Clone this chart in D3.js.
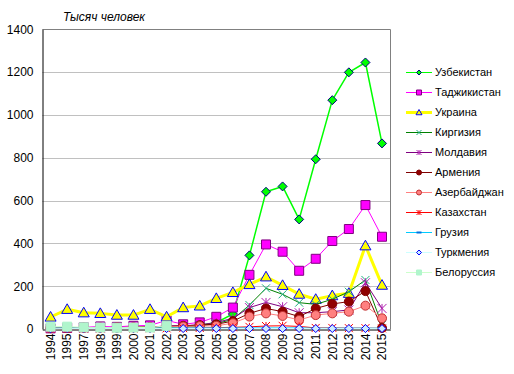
<!DOCTYPE html>
<html>
<head>
<meta charset="utf-8">
<script src="https://cdn.jsdelivr.net/npm/d3@7"></script>
<style>
  body { margin: 0; background: #fff; }
  text { font-family: Arial, "Liberation Sans", sans-serif; }
</style>
</head>
<body>
<div id="chart"></div>
<script>
// Migrants from former USSR republics, thousands of people //
const width = 514;
const height = 374;

const years = ["1994", "1995", "1997", "1998", "1999", "2000", "2001", "2002", "2003", "2004", "2005",
  "2006", "2007", "2008", "2009", "2010", "2011", "2012", "2013", "2014", "2015"];
const yTicks = [0, 200, 400, 600, 800, 1000, 1200, 1400];

const uzbekistan = [3, 4, 5, 6, 6, 7, 8, 10, 12, 16, 30, 70, 344, 641, 666, 512, 793, 1069, 1199, 1245, 867];
const tajikistan = [3, 5, 8, 12, 10, 15, 17, 40, 22, 31, 57, 100, 253, 395, 361, 272, 328, 411, 467, 579, 431];
const ukraine = [56, 92, 76, 73, 65, 65, 92, 57, 100, 108, 143, 171, 208, 244, 204, 163, 139, 156, 167, 389, 205];
const kyrgyzstan = [2, 3, 4, 5, 5, 6, 7, 10, 12, 15, 25, 45, 112, 190, 162, 123, 115, 139, 174, 229, 19];
const moldova = [2, 3, 4, 5, 6, 7, 8, 15, 15, 20, 30, 50, 100, 124, 104, 76, 76, 81, 89, 216, 96];
const armenia = [5, 5, 6, 7, 7, 8, 9, 12, 15, 18, 22, 37, 73, 96, 81, 58, 96, 117, 128, 177, 5];
const azerbaijan = [4, 5, 6, 6, 7, 7, 8, 10, 12, 14, 15, 27, 58, 73, 61, 42, 65, 73, 81, 109, 50];
const kazakhstan = [2, 2, 2, 2, 2, 2, 3, 3, 4, 5, 6, 8, 10, 14, 15, 12, 5, 5, 4, 4, 3];
const georgia = [4, 5, 5, 5, 5, 5, 5, 5, 5, 5, 5, 5, 5, 5, 5, 5, 4, 4, 4, 4, 4];
const turkmenistan = [1, 2, 2, 2, 2, 2, 2, 2, 2, 2, 2, 2, 2, 2, 2, 2, 2, 2, 2, 2, 2];
const belarus = [11, 11, 8, 7, 6, 7, 7, 15, null, null, null, null, null, null, null, null, null, null, null, null, null];

const series = [
  { name: "Узбекистан", values: uzbekistan, line: "#00FF00", lw: 1.5, marker: "diamond", fill: "#00FF00", stroke: "#000080", size: 9 },
  { name: "Таджикистан", values: tajikistan, line: "#FF00FF", lw: 1, marker: "square", fill: "#FF00FF", stroke: "#800080", size: 9 },
  { name: "Украина", values: ukraine, line: "#FFFF00", lw: 3, marker: "triangle", fill: "#FFFF00", stroke: "#0000FF", size: 11 },
  { name: "Киргизия", values: kyrgyzstan, line: "#008000", lw: 1, marker: "x", fill: "none", stroke: "#1FAF7F", size: 8 },
  { name: "Молдавия", values: moldova, line: "#800080", lw: 1, marker: "star", fill: "none", stroke: "#B020B0", size: 9 },
  { name: "Армения", values: armenia, line: "#800000", lw: 1, marker: "circle", fill: "#900000", stroke: "#800000", size: 9 },
  { name: "Азербайджан", values: azerbaijan, line: "#FF8080", lw: 1, marker: "circle", fill: "#FF8080", stroke: "#C03030", size: 9 },
  { name: "Казахстан", values: kazakhstan, line: "#FF0000", lw: 1, marker: "star", fill: "none", stroke: "#FF0000", size: 8 },
  { name: "Грузия", values: georgia, line: "#00CCFF", lw: 1, marker: "dash", fill: "none", stroke: "#0070E0", size: 7 },
  { name: "Туркмения", values: turkmenistan, line: "#CCFFFF", lw: 1, marker: "diamond", fill: "#CCECFF", stroke: "#0000FF", size: 8 },
  { name: "Белоруссия", values: belarus, line: "#CCFFCC", lw: 1, marker: "square", fill: "#B0F5CC", stroke: "#B0F5CC", size: 9 }
];

const plot = { left: 42.3, top: 29.3, right: 390.3, bottom: 329 };

const svg = d3.select("#chart")
  .append("svg")
  .attr("width", width)
  .attr("height", height);

const x = d3.scaleBand()
  .domain(years)
  .range([plot.left, plot.right]);

const y = d3.scaleLinear()
  .domain([0, 1400])
  .range([plot.bottom, plot.top]);

const cx = d => x(d) + x.bandwidth() / 2;

// gridlines
svg.append("g")
  .selectAll("line")
  .data(yTicks.filter(t => t > 0 && t < 1400))
  .enter()
  .append("line")
  .attr("x1", plot.left)
  .attr("x2", plot.right)
  .attr("y1", d => Math.round(y(d)) + 0.5)
  .attr("y2", d => Math.round(y(d)) + 0.5)
  .attr("stroke", "#C0C0C0");

// plot frame (top + right grey)
svg.append("path")
  .attr("d", `M${plot.left},${Math.round(plot.top) + 0.5}H${Math.round(plot.right) + 0.5}V${plot.bottom}`)
  .attr("fill", "none")
  .attr("stroke", "#808080");

// y axis
const yAxis = svg.append("g")
  .attr("transform", `translate(${Math.round(plot.left) + 0.5},0)`)
  .call(d3.axisLeft(y).tickValues(yTicks).tickFormat(d3.format("d")).tickSize(0).tickPadding(9));
yAxis.select(".domain").attr("stroke", "#000");
yAxis.selectAll("text").style("font-size", "12px").attr("fill", "#000");

// x axis
const xAxis = svg.append("g")
  .attr("transform", `translate(0,${Math.round(plot.bottom) + 0.5})`)
  .call(d3.axisBottom(x).tickSize(0).tickPadding(0));
xAxis.select(".domain").attr("stroke", "#000");
xAxis.selectAll("text")
  .style("font-size", "12px")
  .attr("fill", "#000")
  .attr("text-anchor", "end")
  .attr("transform", "rotate(-90)")
  .attr("x", -4)
  .attr("y", 0)
  .attr("dy", "0.35em");

// title
svg.append("text")
  .attr("x", 63)
  .attr("y", 21)
  .style("font-size", "12px")
  .style("font-style", "italic")
  .text("Тысяч человек");

function markerPath(type, s) {
  const h = s / 2;
  switch (type) {
    case "diamond": return `M0,${-h}L${h},0L0,${h}L${-h},0Z`;
    case "square": return `M${-h},${-h}H${h}V${h}H${-h}Z`;
    case "triangle": return `M0,${-h}L${h},${h * 0.75}L${-h},${h * 0.75}Z`;
    case "x": return `M${-h},${-h}L${h},${h}M${-h},${h}L${h},${-h}`;
    case "star": return `M${-h},${-h}L${h},${h}M${-h},${h}L${h},${-h}M0,${-h}V${h}`;
    case "dash": return `M${-h},0H${h}`;
    case "circle": return d3.symbol(d3.symbolCircle, Math.PI * h * h)();
  }
}

const lines = svg.append("g");
series.forEach(s => {
  const pts = years.map((yr, i) => ({ yr, v: s.values[i] })).filter(p => p.v != null);
  const line = d3.line().x(p => cx(p.yr)).y(p => y(p.v));
  const g = lines.append("g");
  g.append("path")
    .attr("d", line(pts))
    .attr("fill", "none")
    .attr("stroke", s.line)
    .attr("stroke-width", s.lw)
    .attr("stroke-linejoin", "round");
  g.selectAll("path.m")
    .data(pts)
    .enter()
    .append("path")
    .attr("class", "m")
    .attr("transform", p => `translate(${cx(p.yr)},${y(p.v)})`)
    .attr("d", markerPath(s.marker, s.size))
    .attr("fill", s.fill)
    .attr("stroke", s.stroke)
    .attr("stroke-width", s.marker === "dash" ? 2 : 1);
});

// legend
const legend = svg.append("g").attr("transform", "translate(406,72.5)");
series.forEach((s, i) => {
  const row = legend.append("g").attr("transform", `translate(0,${i * 20})`);
  row.append("line")
    .attr("x1", 0).attr("x2", 26)
    .attr("stroke", s.line)
    .attr("stroke-width", s.lw === 3 ? 3 : 1);
  row.append("path")
    .attr("transform", "translate(13,0)")
    .attr("d", markerPath(s.marker, s.marker === "triangle" ? 6 : 5))
    .attr("fill", s.fill)
    .attr("stroke", s.stroke)
    .attr("stroke-width", s.marker === "dash" ? 2 : 1);
  row.append("text")
    .attr("x", 29)
    .attr("dy", "0.35em")
    .style("font-size", "11px")
    .text(s.name);
});
</script>
</body>
</html>
